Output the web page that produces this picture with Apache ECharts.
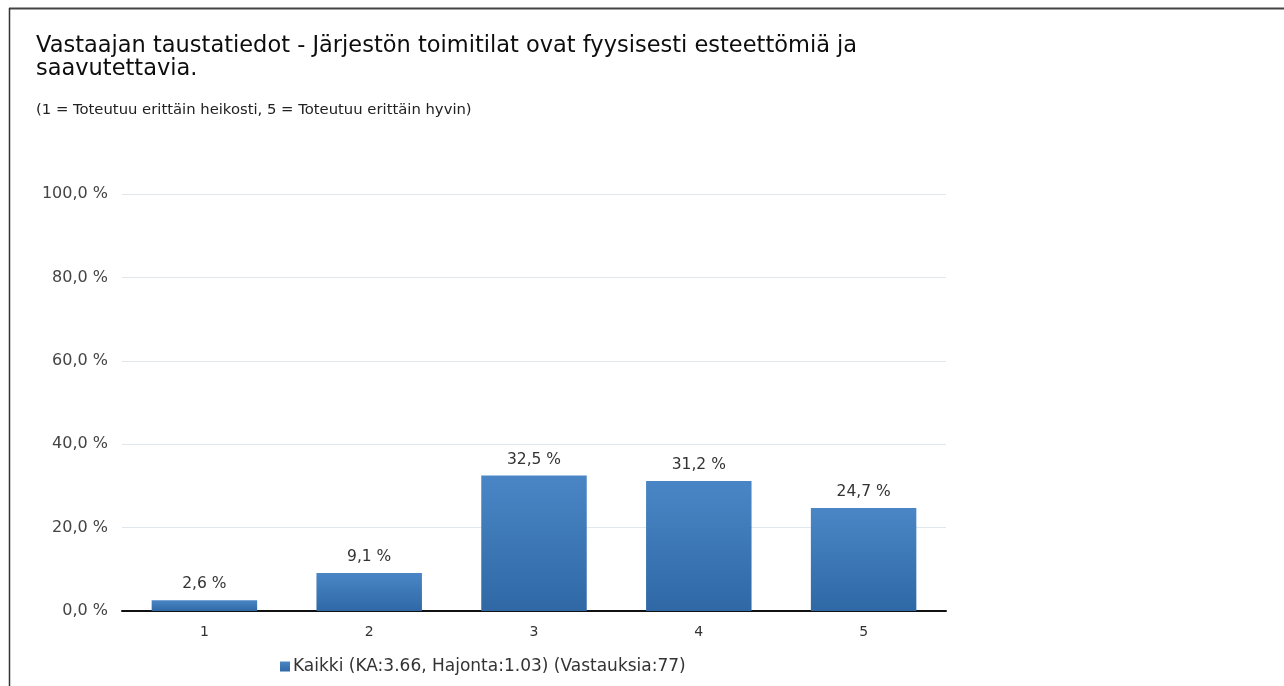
<!DOCTYPE html>
<html><head><meta charset="utf-8">
<script src="https://cdn.jsdelivr.net/npm/echarts@6/dist/echarts.min.js"></script>
<style>html,body{margin:0;padding:0;background:#fff}#c{width:1284px;height:686px}</style>
</head><body><div id="c"></div>
<script>
const titleText = "Vastaajan taustatiedot - Järjestön toimitilat ovat fyysisesti esteettömiä ja\nsaavutettavia.";
const subtitleText = "(1 = Toteutuu erittäin heikosti, 5 = Toteutuu erittäin hyvin)";
const categories = ["1", "2", "3", "4", "5"];
const values = [2.6, 9.1, 32.5, 31.2, 24.7];
const seriesName = "Kaikki (KA:3.66, Hajonta:1.03) (Vastauksia:77)";
const yTicks = [0, 20, 40, 60, 80, 100];

const fmt = v => v.toFixed(1).replace('.', ',') + ' %';
const chart = echarts.init(document.getElementById('c'), null, {renderer: 'canvas'});
chart.setOption({
  animation: false,
  backgroundColor: '#fff',
  title: [
    {text: titleText, left: 31, top: 30,
     textStyle: {fontFamily: 'DejaVu Sans', fontSize: 22.5, fontWeight: 'normal', color: '#0d0d0d', lineHeight: 23}},
    {text: subtitleText, left: 31, top: 98,
     textStyle: {fontFamily: 'DejaVu Sans', fontSize: 14.8, fontWeight: 'normal', color: '#222'}}
  ],
  graphic: [
    {type: 'line', shape: {x1: 9, y1: 8.5, x2: 1284, y2: 8.5}, style: {stroke: '#444', lineWidth: 2}},
    {type: 'line', shape: {x1: 9.5, y1: 8, x2: 9.5, y2: 686}, style: {stroke: '#333', lineWidth: 1.5}}
  ],
  grid: {left: 122, right: 338, top: 194, bottom: 75, containLabel: false},
  legend: {
    data: [seriesName], left: 280, top: 653, itemWidth: 10, itemHeight: 10, itemGap: 4,
    icon: 'rect', padding: [5, 0, 5, 0],
    textStyle: {fontFamily: 'DejaVu Sans', fontSize: 17, color: '#333', padding: [0, 0, 0, -2]}
  },
  xAxis: {
    type: 'category', data: categories,
    axisLine: {lineStyle: {color: '#111', width: 2}},
    axisTick: {show: false},
    axisLabel: {margin: 14, fontFamily: 'DejaVu Sans', fontSize: 14, color: '#333'}
  },
  yAxis: {
    type: 'value', min: yTicks[0], max: yTicks[yTicks.length - 1], interval: 20,
    axisLine: {show: false}, axisTick: {show: false},
    splitLine: {lineStyle: {color: '#dfe7ef', width: 1}},
    axisLabel: {margin: 14, fontFamily: 'DejaVu Sans', fontSize: 16, color: '#444', formatter: v => fmt(v)}
  },
  series: [{
    name: seriesName, type: 'bar', data: values, barWidth: '64%',
    itemStyle: {color: new echarts.graphic.LinearGradient(0, 0, 0, 1, [
      {offset: 0, color: '#4a86c6'}, {offset: 1, color: '#2f68a5'}])},
    label: {show: true, position: 'top', distance: 8, formatter: p => fmt(p.value),
      fontFamily: 'DejaVu Sans', fontSize: 15.5, color: '#333'}
  }],
  color: ['#3b77b8']
});
</script></body></html>
